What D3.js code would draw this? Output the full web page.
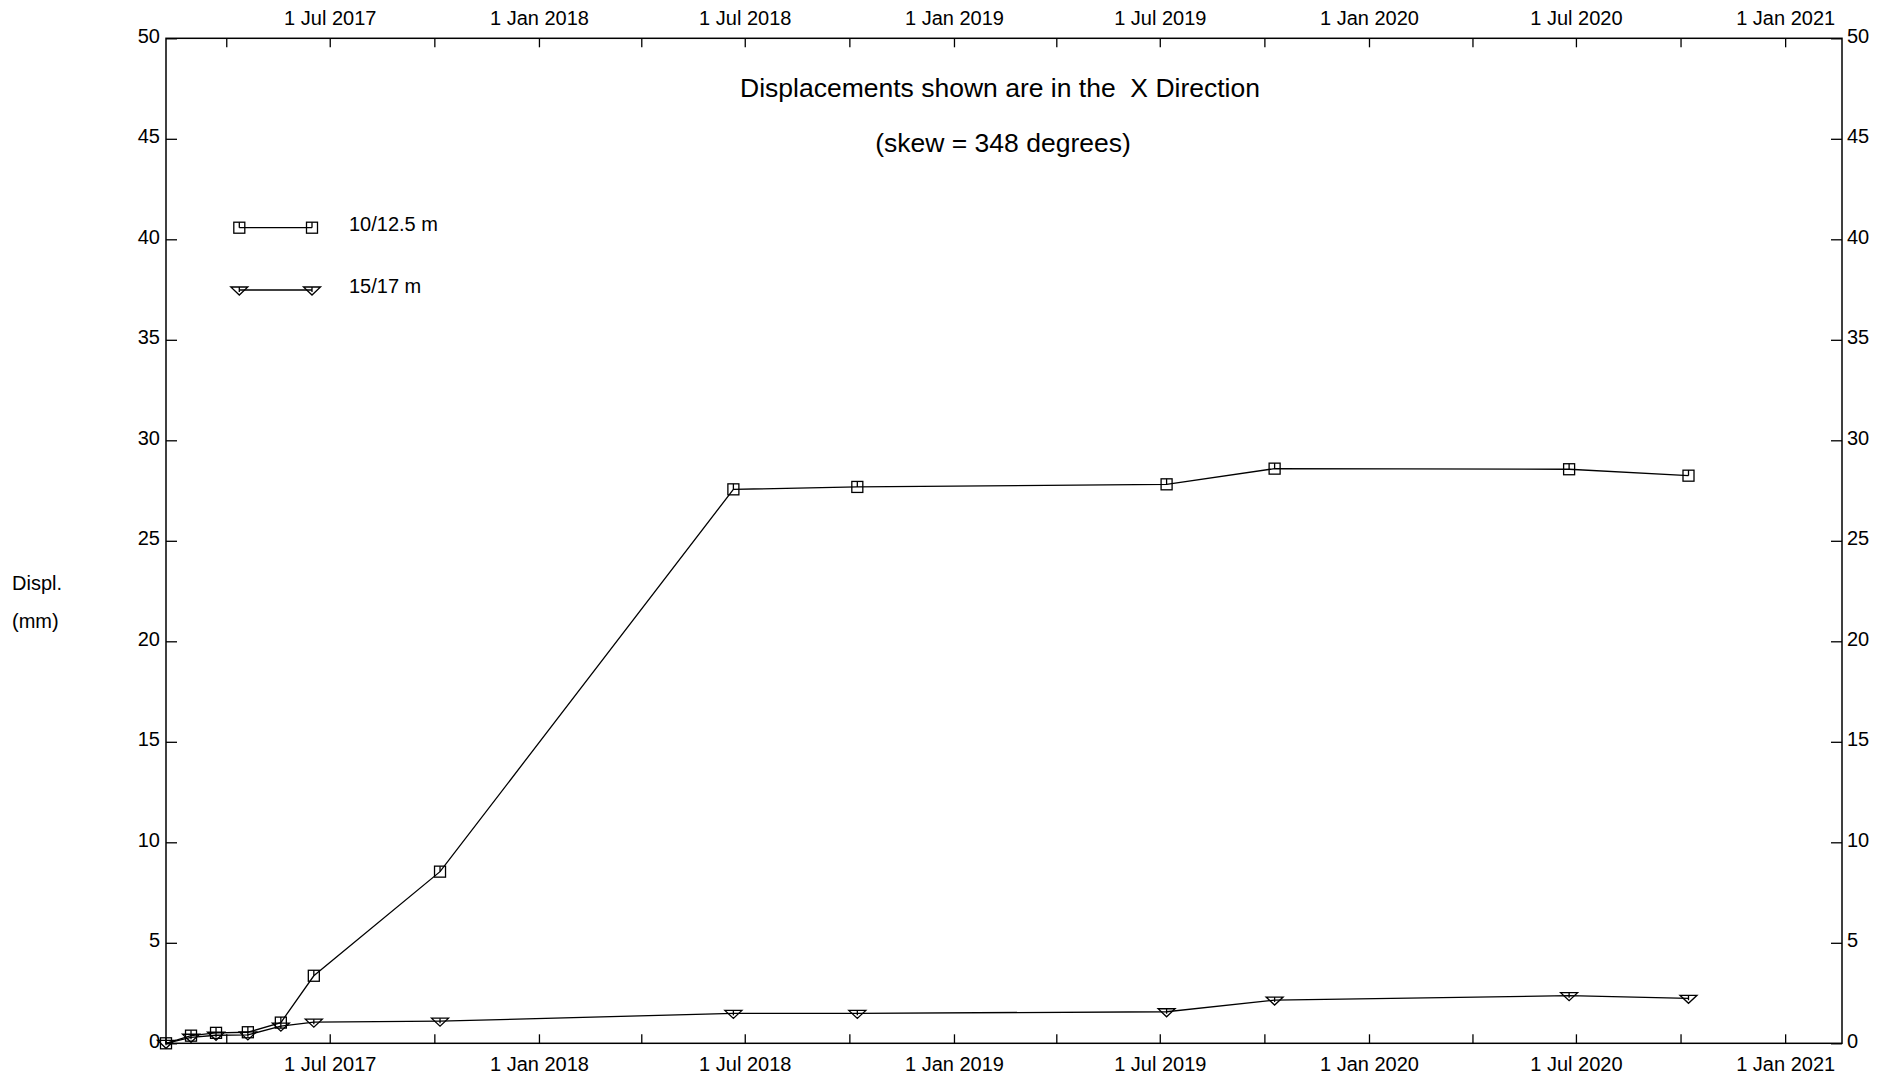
<!DOCTYPE html>
<html>
<head>
<meta charset="utf-8">
<script src="https://cdn.jsdelivr.net/npm/d3@7"></script>
<style>
  html, body { margin: 0; padding: 0; background: #fff; }
  svg { display: block; font-family: "Liberation Sans", Arial, Helvetica, sans-serif; }
</style>
</head>
<body>
<svg id="chart" width="1892" height="1081"></svg>
<script>
// ---- data ----
const dates = ["2017-02-07","2017-03-01","2017-03-23","2017-04-20","2017-05-19","2017-06-17",
               "2017-10-06","2018-06-21","2018-10-08","2019-07-07","2019-10-10","2020-06-25","2020-10-08"];
const series1Name = "10/12.5 m";
const series1 = [0, 0.38, 0.52, 0.55, 1.03, 3.36, 8.54, 27.56, 27.68, 27.81, 28.59, 28.56, 28.24];
const series2Name = "15/17 m";
const series2 = [0, 0.30, 0.40, 0.42, 0.85, 1.05, 1.10, 1.49, 1.49, 1.57, 2.15, 2.37, 2.24];
const xDomain = ["2017-02-07", "2021-02-20"];
const yDomain = [0, 50];
const yTicks = [0, 5, 10, 15, 20, 25, 30, 35, 40, 45, 50];
const titleText = "Displacements shown are in the\u00a0\u00a0X Direction";
const subtitleText = "(skew = 348 degrees)";
const yLabel1 = "Displ.";
const yLabel2 = "(mm)";

// ---- layout ----
const W = 1892, H = 1081;
const m = { left: 166, right: 50, top: 38.3, bottom: 37.7 };
const svg = d3.select("#chart");
const parse = d3.utcParse("%Y-%m-%d");

const x = d3.scaleUtc().domain(xDomain.map(parse)).range([m.left, W - m.right]);
const y = d3.scaleLinear().domain(yDomain).range([H - m.bottom, m.top]);

const monthFmt = d3.utcFormat("%b");
const fmt = d => {
  const mo = d.getUTCMonth();
  if (mo === 0 || mo === 6) return "1 " + monthFmt(d) + " " + d.getUTCFullYear();
  return "";
};
const xTickVals = d3.utcMonth.every(3).range(parse("2017-03-01"), parse("2021-02-20"));

function styleAxis(g) {
  g.select(".domain").remove();
  g.selectAll(".tick line").attr("stroke", "#000").attr("stroke-width", 1.3);
  g.selectAll(".tick text").attr("fill", "#000").style("font-size", "20px");
}

// top axis
svg.append("g").attr("transform", `translate(0,${m.top})`)
  .call(d3.axisTop(x).tickValues(xTickVals).tickFormat(fmt).tickSize(-9).tickPadding(13))
  .call(styleAxis).call(g => g.selectAll(".tick text").attr("font-family", null));
// bottom axis
svg.append("g").attr("transform", `translate(0,${H - m.bottom})`)
  .call(d3.axisBottom(x).tickValues(xTickVals).tickFormat(fmt).tickSize(-9).tickPadding(14))
  .call(styleAxis);
// left axis
svg.append("g").attr("transform", `translate(${m.left},0)`)
  .call(d3.axisLeft(y).tickValues(yTicks).tickFormat(d3.format("d")).tickSize(-11).tickPadding(6))
  .call(styleAxis).call(g => g.selectAll(".tick text").attr("dy", "0.2em"));
// right axis
svg.append("g").attr("transform", `translate(${W - m.right},0)`)
  .call(d3.axisRight(y).tickValues(yTicks).tickFormat(d3.format("d")).tickSize(-11).tickPadding(5))
  .call(styleAxis).call(g => g.selectAll(".tick text").attr("dy", "0.2em"));
svg.selectAll(".tick text").attr("font-family", null);

// frame
svg.append("rect")
  .attr("x", m.left).attr("y", m.top)
  .attr("width", W - m.left - m.right).attr("height", H - m.top - m.bottom)
  .attr("fill", "none").attr("stroke", "#000").attr("stroke-width", 1.5);

// titles
svg.append("text").attr("x", 1000).attr("y", 97).attr("text-anchor", "middle")
  .style("font-size", "26.5px").text(titleText);
svg.append("text").attr("x", 1003).attr("y", 152).attr("text-anchor", "middle")
  .style("font-size", "26.5px").text(subtitleText);
svg.append("text").attr("x", 12).attr("y", 590).style("font-size", "20px").text(yLabel1);
svg.append("text").attr("x", 12).attr("y", 628).style("font-size", "20px").text(yLabel2);

// markers
function square(g, cx, cy) {
  const s = 5.5;
  g.append("rect").attr("x", cx - s).attr("y", cy - s).attr("width", 2 * s).attr("height", 2 * s)
    .attr("fill", "none").attr("stroke", "#000").attr("stroke-width", 1.3);
  g.append("line").attr("x1", cx).attr("x2", cx).attr("y1", cy - s).attr("y2", cy)
    .attr("stroke", "#000").attr("stroke-width", 1.3);
}
function triangle(g, cx, cy) {
  const hw = 8.5, top = cy - 3, bot = cy + 5;
  g.append("path").attr("d", `M${cx - hw},${top}L${cx + hw},${top}L${cx},${bot}Z`)
    .attr("fill", "none").attr("stroke", "#000").attr("stroke-width", 1.3);
  g.append("line").attr("x1", cx).attr("x2", cx).attr("y1", top).attr("y2", cy + 2)
    .attr("stroke", "#000").attr("stroke-width", 1.3);
}

const line = d3.line().x(d => x(d.date)).y(d => y(d.v));
const seriesList = [
  { name: series1Name, vals: series1, marker: square },
  { name: series2Name, vals: series2, marker: triangle }
];
seriesList.forEach(s => {
  const pts = dates.map((d, i) => ({ date: parse(d), v: s.vals[i] }));
  const g = svg.append("g");
  g.append("path").datum(pts).attr("d", line)
    .attr("fill", "none").attr("stroke", "#000").attr("stroke-width", 1.3);
  pts.forEach(p => s.marker(g, x(p.date), y(p.v)));
});

// legend
const legY = [227.7, 290];
seriesList.forEach((s, i) => {
  const g = svg.append("g");
  g.append("line").attr("x1", 239.3).attr("x2", 312).attr("y1", legY[i]).attr("y2", legY[i])
    .attr("stroke", "#000").attr("stroke-width", 1.3);
  s.marker(g, 239.3, legY[i]);
  s.marker(g, 312, legY[i]);
  g.append("text").attr("x", 349).attr("y", legY[i] + 3).style("font-size", "20px")
    .attr("dy", i === 0 ? "0" : "0").text(s.name);
});
</script>
</body>
</html>
